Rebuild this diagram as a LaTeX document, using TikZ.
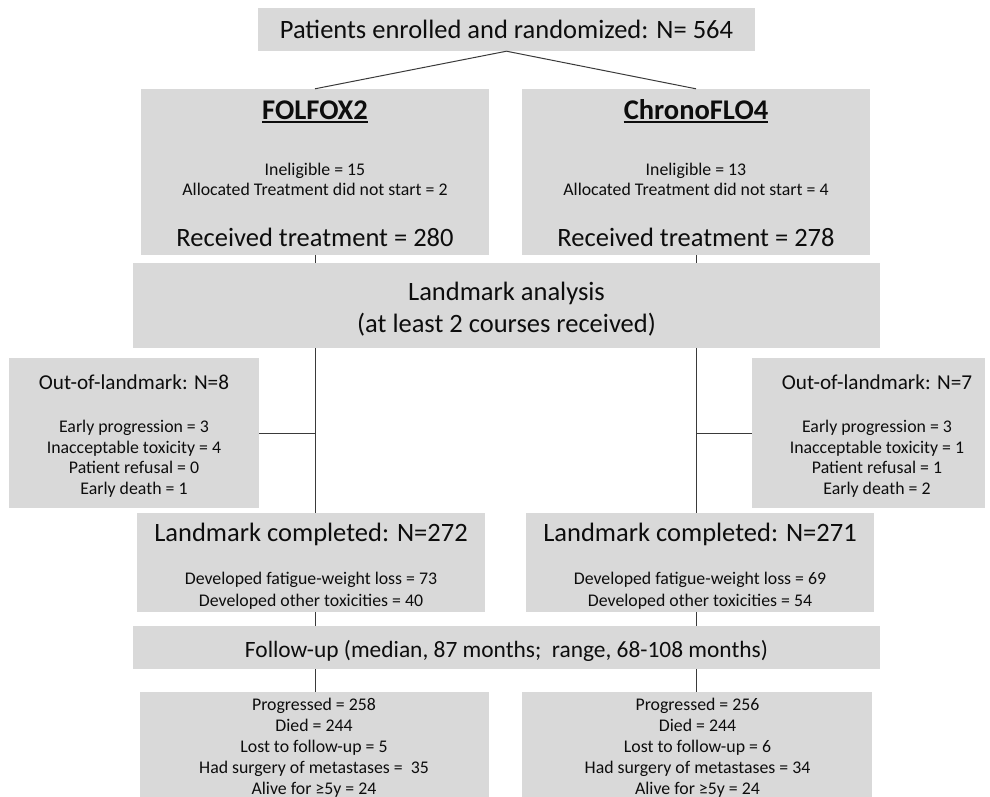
\documentclass[tikz,border=0pt]{standalone}
\usepackage{fontspec}
\setmainfont{Carlito}
\definecolor{boxgray}{HTML}{D9D9D9}
\definecolor{txt}{HTML}{0D0D0D}
\definecolor{ln}{HTML}{3A3A3A}
\begin{document}
\begin{tikzpicture}[x=1pt,y=-1pt,
  box/.style={rectangle, fill=boxgray, draw=none, inner sep=0pt},
  conn/.style={draw=ln, line width=1pt},
  txtnode/.style={text=txt, inner sep=0pt, align=center, anchor=base},
  big/.style={txtnode, font=\fontsize{26.5}{30}\selectfont},
  mid/.style={txtnode, font=\fontsize{21.2}{24}\selectfont},
  fu/.style={txtnode, font=\fontsize{23.4}{27}\selectfont},
  small/.style={txtnode, font=\fontsize{17.8}{20.5}\selectfont},
  arm/.style={txtnode, font=\bfseries\fontsize{28.5}{32}\selectfont}]
\useasboundingbox (0,0) rectangle (990,796);
\clip (0,0) rectangle (990,796);

% boxes
\node[box, minimum width=497pt, minimum height=43pt] (top) at (506.5,29.5) {};
\node[box, minimum width=348pt, minimum height=166pt] (fol) at (315,172) {};
\node[box, minimum width=348pt, minimum height=166pt] (chr) at (696,172) {};
\node[box, minimum width=747pt, minimum height=85pt] (lma) at (506.5,305.5) {};
\node[box, minimum width=250pt, minimum height=150pt] (outL) at (134,433) {};
\node[box, minimum width=233pt, minimum height=150pt] (outR) at (868.5,433) {};
\node[box, minimum width=348pt, minimum height=99pt] (lcL) at (311,562.5) {};
\node[box, minimum width=348pt, minimum height=99pt] (lcR) at (699.5,562.5) {};
\node[box, minimum width=747pt, minimum height=43pt] (fup) at (506.5,647.5) {};
\node[box, minimum width=349pt, minimum height=120pt] (botL) at (314.5,752) {};
\node[box, minimum width=350pt, minimum height=120pt] (botR) at (697,752) {};

% connectors
\draw[conn] (top.south) -- (fol.north);
\draw[conn] (top.south) -- (chr.north);
\draw[conn] (fol.south) -- (fol.south |- lma.north);
\draw[conn] (chr.south) -- (chr.south |- lma.north);
\draw[conn] (fol.south |- lma.south) -- (fol.south |- lcL.north);
\draw[conn] (chr.south |- lma.south) -- (chr.south |- lcR.north);
\draw[conn] (outL.east) -- (outL.east -| fol.south);
\draw[conn] (outR.west) -- (outR.west -| chr.south);
\draw[conn] (fol.south |- lcL.south) -- (fol.south |- fup.north);
\draw[conn] (chr.south |- lcR.south) -- (chr.south |- fup.north);
\draw[conn] (fol.south |- fup.south) -- (fol.south |- botL.north);
\draw[conn] (chr.south |- fup.south) -- (chr.south |- botR.north);

% texts (base anchors)
\node[big] (ttop) at (506.5,38.5) {Patients enrolled and randomized: N= 564};

\node[arm] (tf) at (315,119) {FOLFOX2};
\draw[txt, line width=1.6pt] ([yshift=-3pt]tf.base west) -- ([yshift=-3pt]tf.base east);
\node[small] (tf1) at (315,175.7) {Ineligible = 15};
\node[small] (tf2) at (315,195.7) {Allocated Treatment did not start = 2};
\node[big] (tf3) at (315,246.5) {Received treatment = 280};

\node[arm] (tc) at (696,119) {ChronoFLO4};
\draw[txt, line width=1.6pt] ([yshift=-3pt]tc.base west) -- ([yshift=-3pt]tc.base east);
\node[small] (tc1) at (696,175.7) {Ineligible = 13};
\node[small] (tc2) at (696,195.7) {Allocated Treatment did not start = 4};
\node[big] (tc3) at (696,246.5) {Received treatment = 278};

\node[big] (tl1) at (506.5,300.5) {Landmark analysis};
\node[big] (tl2) at (506.5,332.5) {(at least 2 courses received)};

\node[mid] (ol0) at (134,389) {Out-of-landmark: N=8};
\node[small] (ol1) at (134,432.7) {Early progression = 3};
\node[small] (ol2) at (134,453.2) {Inacceptable toxicity = 4};
\node[small] (ol3) at (134,473.7) {Patient refusal = 0};
\node[small] (ol4) at (134,494.2) {Early death = 1};

\node[mid] (or0) at (877,389) {Out-of-landmark: N=7};
\node[small] (or1) at (877,432.7) {Early progression = 3};
\node[small] (or2) at (877,453.2) {Inacceptable toxicity = 1};
\node[small] (or3) at (877,473.7) {Patient refusal = 1};
\node[small] (or4) at (877,494.2) {Early death = 2};

\node[big] (cl0) at (311,541.5) {Landmark completed: N=272};
\node[small] (cl1) at (311,584.7) {Developed fatigue-weight loss = 73};
\node[small] (cl2) at (311,606.2) {Developed other toxicities = 40};

\node[big] (cr0) at (700,541.5) {Landmark completed: N=271};
\node[small] (cr1) at (700,584.7) {Developed fatigue-weight loss = 69};
\node[small] (cr2) at (700,606.2) {Developed other toxicities = 54};

\node[fu] (tfu) at (506.5,657) {Follow-up (median, 87 months;\ \ range, 68-108 months)};

\node[small] (bl1) at (314,710.7) {Progressed = 258};
\node[small] (bl2) at (314,731.7) {Died = 244};
\node[small] (bl3) at (314,752.7) {Lost to follow-up = 5};
\node[small] (bl4) at (314,773.7) {Had surgery of metastases =\ \ 35};
\node[small] (bl5) at (314,794.7) {Alive for ≥5y = 24};

\node[small] (br1) at (697.5,710.7) {Progressed = 256};
\node[small] (br2) at (697.5,731.7) {Died = 244};
\node[small] (br3) at (697.5,752.7) {Lost to follow-up = 6};
\node[small] (br4) at (697.5,773.7) {Had surgery of metastases = 34};
\node[small] (br5) at (697.5,794.7) {Alive for ≥5y = 24};
\end{tikzpicture}
\end{document}
